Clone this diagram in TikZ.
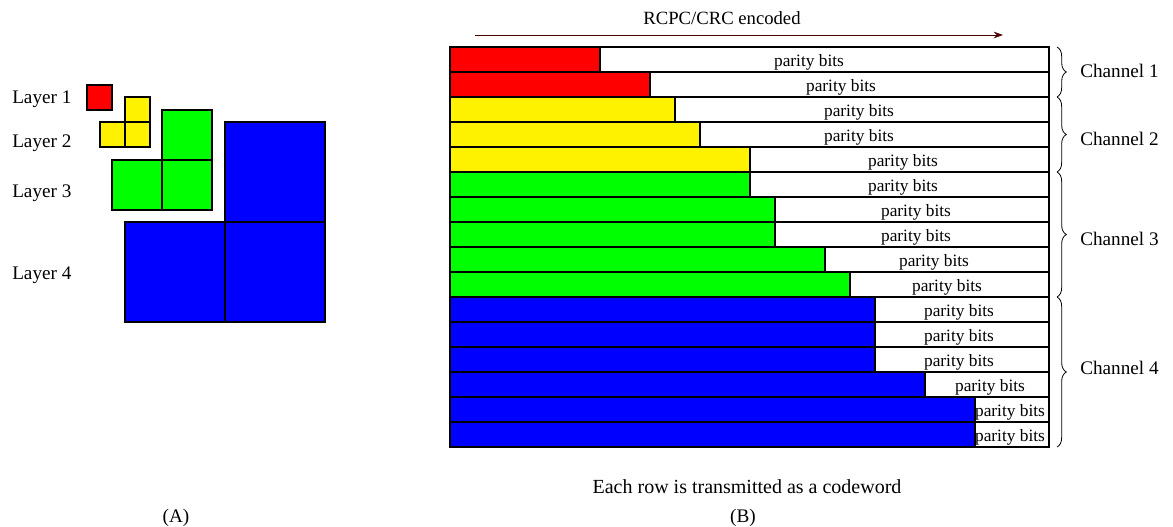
\documentclass[tikz,border=0pt]{standalone}
\usepackage{fontspec}
\setmainfont{Liberation Serif}
\usetikzlibrary{decorations.pathreplacing,arrows.meta}
\definecolor{arrowred}{RGB}{80,0,0}
\begin{document}
\begin{tikzpicture}[x=0.75pt,y=-0.75pt,
  cell/.style={draw=black,line width=0.8pt},
  lbl/.style={font=\fontsize{14.4pt}{16pt}\selectfont,inner sep=0pt},
  pb/.style={font=\fontsize{13pt}{15pt}\selectfont,inner sep=0pt},
  chbrace/.style={decorate,decoration={brace,amplitude=7pt},line width=0.6pt}]
\useasboundingbox (0,0) rectangle (1173,527);
% ---- (A) layers ----
\filldraw[cell,fill=red] (87,85) rectangle (112,110);
\filldraw[cell,fill=yellow] (125,97) rectangle (150,122);
\filldraw[cell,fill=yellow] (100,122) rectangle (125,147);
\filldraw[cell,fill=yellow] (125,122) rectangle (150,147);
\filldraw[cell,fill=green] (162,110) rectangle (212,160);
\filldraw[cell,fill=green] (112,160) rectangle (162,210);
\filldraw[cell,fill=green] (162,160) rectangle (212,210);
\filldraw[cell,fill=blue] (225,122) rectangle (325,222);
\filldraw[cell,fill=blue] (125,222) rectangle (225,322);
\filldraw[cell,fill=blue] (225,222) rectangle (325,322);
\node[lbl,anchor=base west] (l1) at (12,104) {Layer 1};
\node[lbl,anchor=base west] (l2) at (12,148) {Layer 2};
\node[lbl,anchor=base west] (l3) at (12,198) {Layer 3};
\node[lbl,anchor=base west] (l4) at (12,279) {Layer 4};
\node[lbl] (capA) at (176,518) {(A)};
% ---- (B) codewords ----
\foreach \i/\c/\e/\t in {1/red/600/809,2/red/650/841,3/yellow/675/859,4/yellow/700/859,
  5/yellow/750/903,6/green/750/903,7/green/775/916,8/green/775/916,9/green/825/934,
  10/green/850/947,11/blue/875/959,12/blue/875/959,13/blue/875/959,14/blue/925/990,
  15/blue/975/1010,16/blue/975/1010}{
  \pgfmathsetmacro\top{47+25*(\i-1)}
  \pgfmathsetmacro\bot{\top+25}
  \fill[\c] (450,\top) rectangle (\e,\bot);
  \draw[cell] (450,\top) rectangle (1049,\bot);
  \draw[cell] (\e,\top) -- (\e,\bot);
  \node[pb,anchor=base] (p\i) at (\t,\bot-5.5) {parity bits};
}
\coordinate (as) at (475,35);
\coordinate (ae) at (1003,35);
\draw[arrowred,line width=0.7pt,-{Stealth[length=7pt,width=5pt]}] (as) -- (ae);
\node[lbl,font=\fontsize{14pt}{16pt}\selectfont,anchor=base] (title) at (722,25) {RCPC/CRC encoded};
\coordinate (b1t) at (1057,47);  \coordinate (b1b) at (1057,97);
\coordinate (b2t) at (1057,97);  \coordinate (b2b) at (1057,172);
\coordinate (b3t) at (1057,172); \coordinate (b3b) at (1057,297);
\coordinate (b4t) at (1057,297); \coordinate (b4b) at (1057,447);
\draw[chbrace] (b1t) -- (b1b);
\draw[chbrace] (b2t) -- (b2b);
\draw[chbrace] (b3t) -- (b3b);
\draw[chbrace] (b4t) -- (b4b);
\node[lbl,anchor=west] (c1) at (1080,71) {Channel 1};
\node[lbl,anchor=west] (c2) at (1080,139) {Channel 2};
\node[lbl,anchor=west] (c3) at (1080,239) {Channel 3};
\node[lbl,anchor=west] (c4) at (1080,368) {Channel 4};
\node[lbl,font=\fontsize{15pt}{17pt}\selectfont] (each) at (747,487) {Each row is transmitted as a codeword};
\node[lbl] (capB) at (743,518) {(B)};
\end{tikzpicture}
\end{document}
